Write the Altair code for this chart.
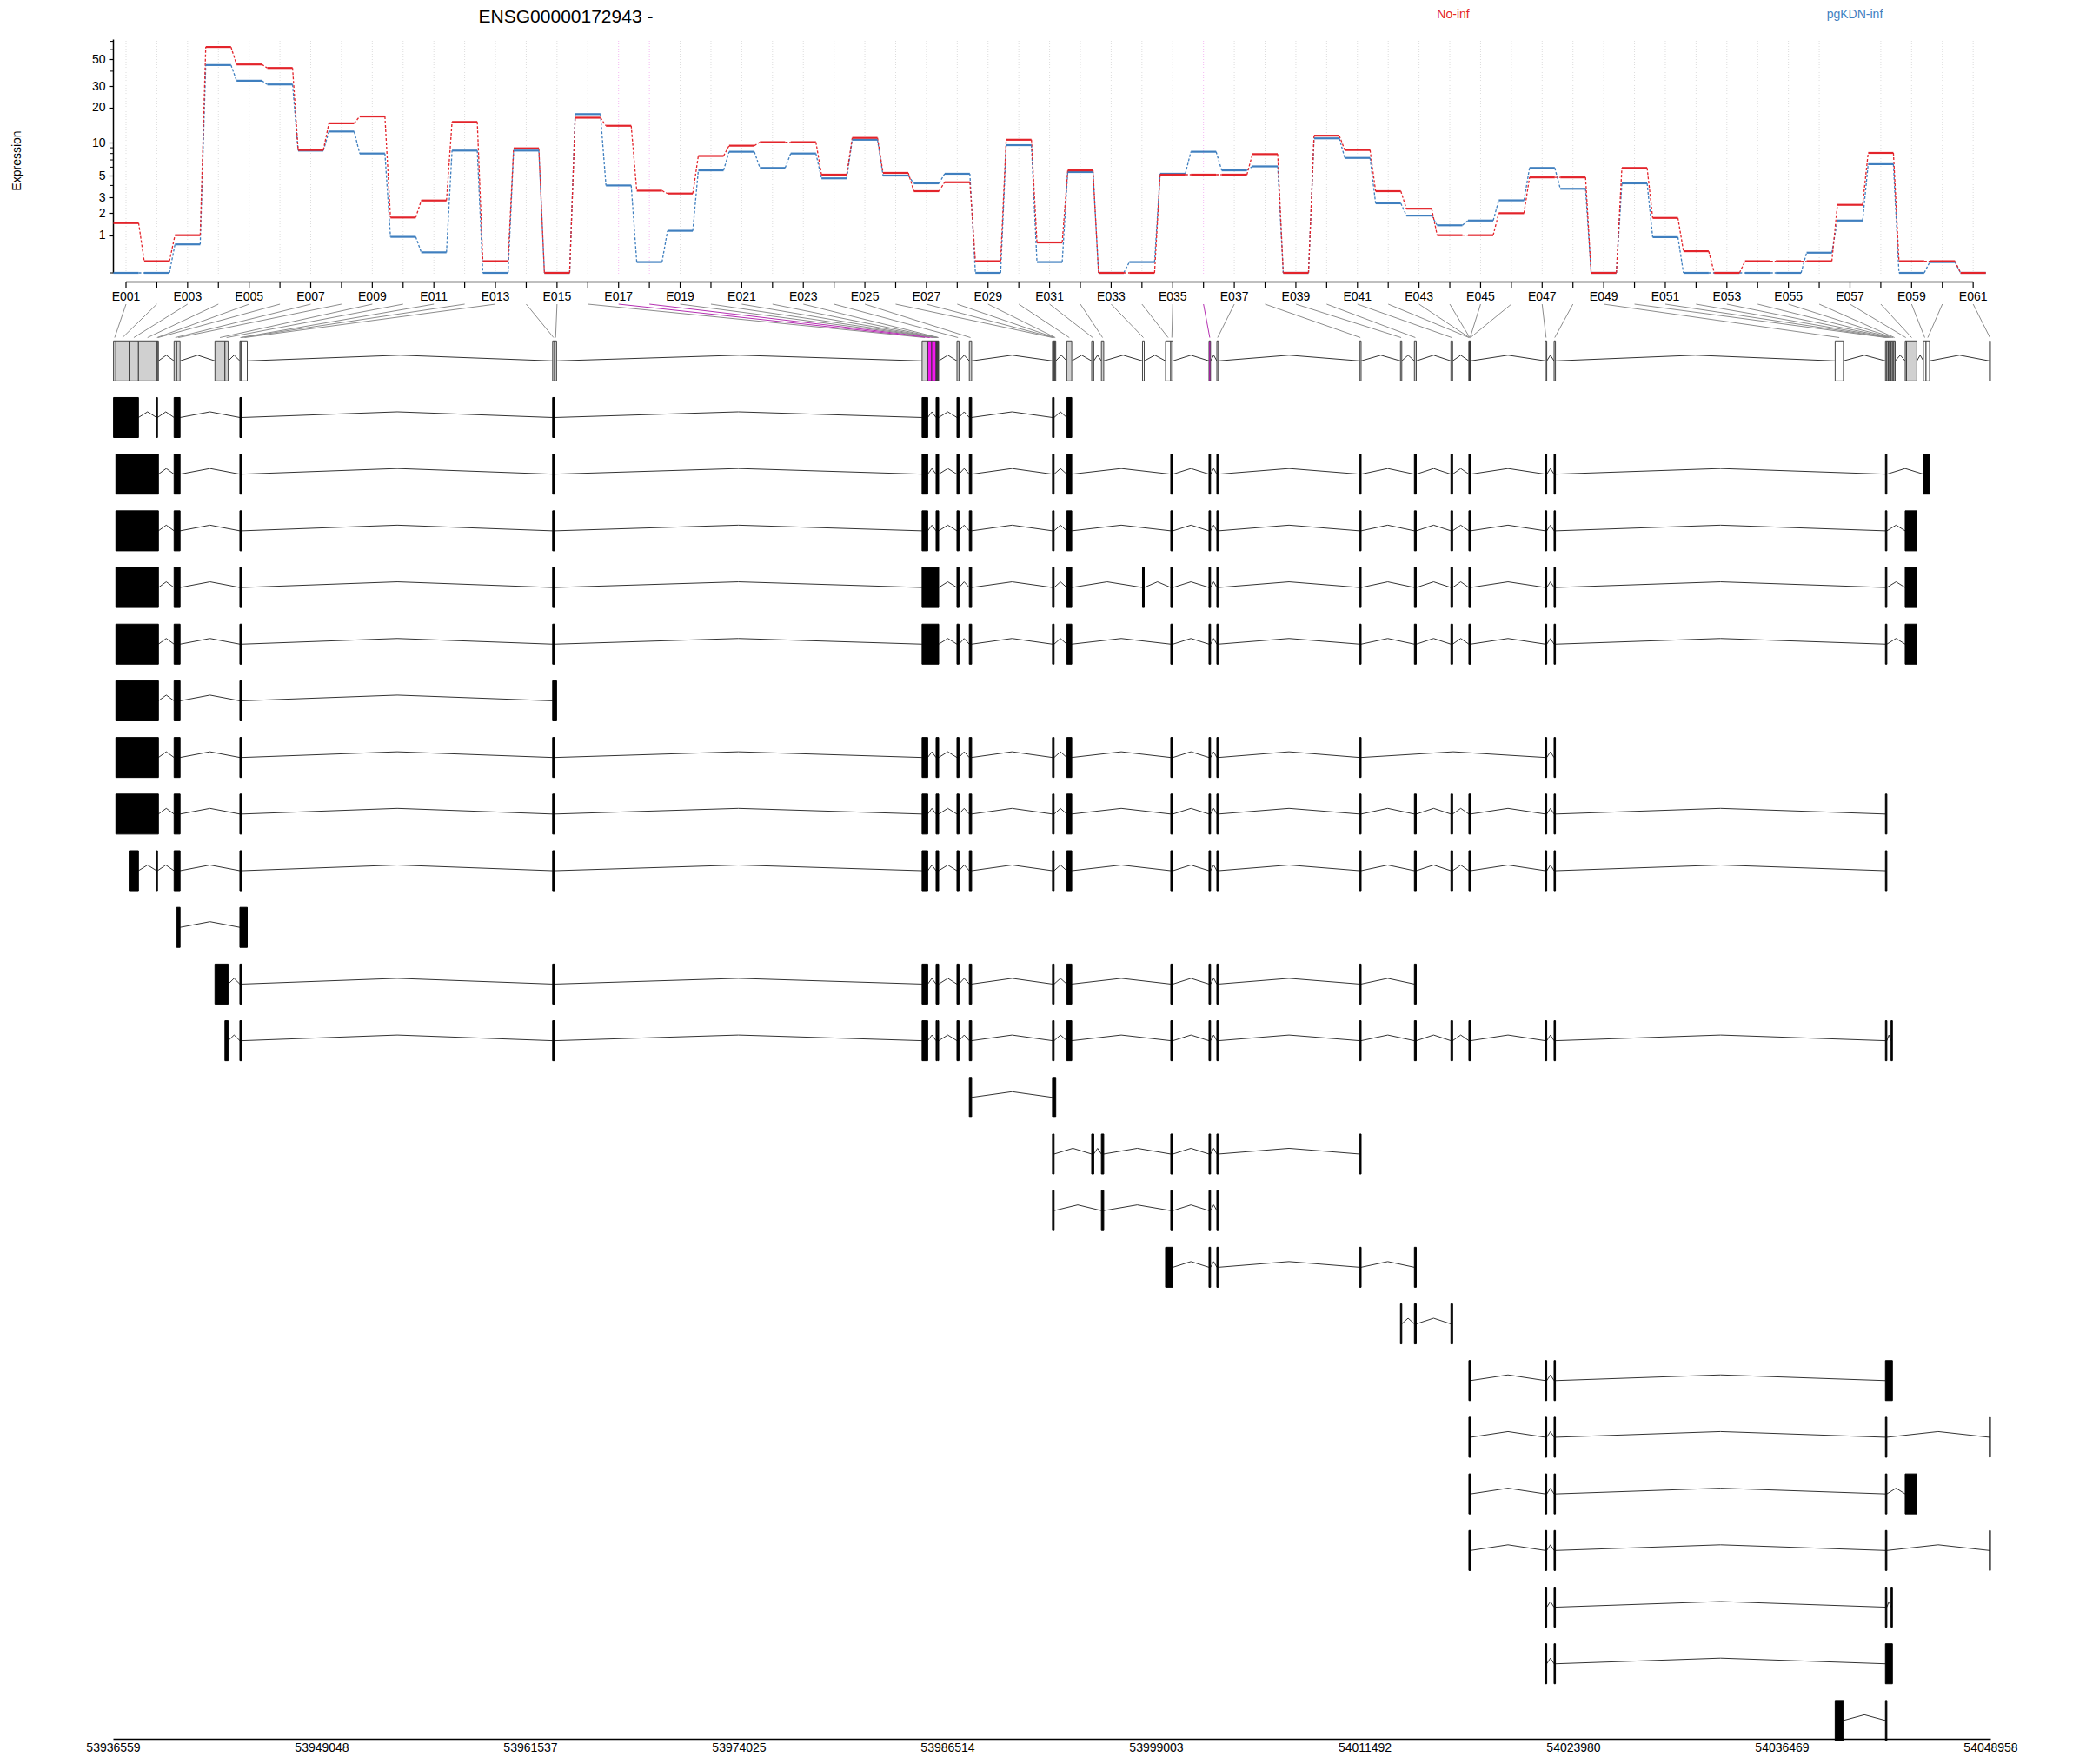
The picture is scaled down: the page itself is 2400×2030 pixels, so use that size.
import altair as alt
import pandas as pd

TITLE = "ENSG00000172943 -"
conditions = ["No-inf", "pgKDN-inf"]
cond_colors = ["#E3242B", "#3F7FBF"]
exon_labels = [f"E{i:03d}" for i in range(1, 62)]

expr_no_inf = [1.50, 0.24, 1.00, 63.0, 45.4, 42.5, 8.6, 14.7, 16.8, 1.77,
               2.79, 15.1, 0.24, 8.9, 0.0, 16.4, 14.0, 3.54, 3.31, 7.6,
               9.4, 10.1, 10.1, 5.1, 11.0, 5.3, 3.5, 4.3, 0.24, 10.6,
               0.75, 5.6, 0.0, 0.0, 5.1, 5.1, 5.1, 7.9, 0.0, 11.5,
               8.6, 3.5, 2.26, 1.0, 1.0, 2.0, 4.8, 4.8, 0.0, 5.9,
               1.75, 0.49, 0.0, 0.24, 0.24, 0.24, 2.5, 8.1, 0.24, 0.24, 0.0]
expr_pgkdn = [0.0, 0.0, 0.69, 44.9, 33.4, 31.1, 8.5, 12.5, 8.0, 0.94,
              0.46, 8.5, 0.0, 8.5, 0.0, 17.6, 4.0, 0.22, 1.17, 5.6,
              8.3, 5.9, 8.0, 4.7, 10.6, 5.0, 4.2, 5.2, 0.0, 9.5,
              0.22, 5.4, 0.0, 0.22, 5.2, 8.3, 5.6, 6.1, 0.0, 10.9,
              7.3, 2.6, 1.87, 1.40, 1.62, 2.8, 5.9, 3.7, 0.0, 4.2,
              0.93, 0.0, 0.0, 0.0, 0.0, 0.45, 1.62, 6.4, 0.0, 0.22, 0.0]

y_tick_values = [1, 2, 3, 5, 10, 20, 30, 50]
y_minor_ticks = [0, 4, 6, 7, 8, 9, 40, 60, 70]

bin_start = [53936590, 53936731, 53937527, 53938084, 53939171, 53939224, 53940217, 53940373,
             53942663, 53943261, 53944156, 53944219, 53944276, 53962879, 53962999, 53984999,
             53985337, 53985577, 53985837, 53985868, 53985899, 53985930, 53985962, 53987086,
             53987826, 53992806, 53992852, 53992904, 53992951, 53993663, 53995152, 53995735,
             53998196, 53999575, 53999887, 54002176, 54002645, 54011194, 54013640, 54014473,
             54016658, 54017735, 54017756, 54017777, 54017798, 54017819, 54022314, 54022835,
             54039663, 54042676, 54042759, 54042842, 54042925, 54043009, 54043092, 54043175,
             54043857, 54043935, 54044950, 54045106, 54048900]
bin_end = [53936731, 53937527, 53938084, 53939171, 53939224, 53939280, 53940373, 53940576,
           53943261, 53943459, 53944219, 53944276, 53944599, 53962999, 53963118, 53985337,
           53985577, 53985837, 53985868, 53985899, 53985930, 53985962, 53985993, 53987211,
           53987966, 53992852, 53992904, 53992951, 53993003, 53993960, 53995277, 53995875,
           53998300, 53999887, 54000017, 54002270, 54002739, 54011283, 54013718, 54014587,
           54016762, 54017756, 54017777, 54017798, 54017819, 54017839, 54022398, 54022918,
           54040157, 54042759, 54042842, 54042925, 54043009, 54043092, 54043175, 54043259,
           54043935, 54044554, 54045106, 54045314, 54048958]
sig_exons = [17, 18, 36]
low_exons = [13, 33, 34, 49, 59, 60]

transcripts = [
    [(1, 3), (5, 5), (7, 8), (11, 12), (14, 14), (16, 16), (19, 23), (24, 24), (25, 25), (26, 27), (30, 30)],
    [(2, 6), (7, 8), (11, 12), (14, 14), (16, 16), (19, 23), (24, 24), (25, 25), (26, 27), (30, 30), (35, 35), (36, 36), (37, 37), (38, 38), (40, 40), (41, 41), (42, 46), (47, 47), (48, 48), (50, 50), (59, 60)],
    [(2, 6), (7, 8), (11, 12), (14, 14), (16, 16), (19, 23), (24, 24), (25, 25), (26, 27), (30, 30), (35, 35), (36, 36), (37, 37), (38, 38), (40, 40), (41, 41), (42, 46), (47, 47), (48, 48), (50, 50), (57, 58)],
    [(2, 6), (7, 8), (11, 12), (14, 14), (16, 23), (24, 24), (25, 25), (26, 27), (30, 30), (33, 33), (35, 35), (36, 36), (37, 37), (38, 38), (40, 40), (41, 41), (42, 46), (47, 47), (48, 48), (50, 50), (57, 58)],
    [(2, 6), (7, 8), (11, 12), (14, 14), (16, 23), (24, 24), (25, 25), (26, 27), (30, 30), (35, 35), (36, 36), (37, 37), (38, 38), (40, 40), (41, 41), (42, 46), (47, 47), (48, 48), (50, 50), (57, 58)],
    [(2, 6), (7, 8), (11, 12), (14, 15)],
    [(2, 6), (7, 8), (11, 12), (14, 14), (16, 16), (19, 23), (24, 24), (25, 25), (26, 27), (30, 30), (35, 35), (36, 36), (37, 37), (38, 38), (47, 47), (48, 48)],
    [(2, 6), (7, 8), (11, 12), (14, 14), (16, 16), (19, 23), (24, 24), (25, 25), (26, 27), (30, 30), (35, 35), (36, 36), (37, 37), (38, 38), (40, 40), (41, 41), (42, 46), (47, 47), (48, 48), (50, 50)],
    [(3, 3), (5, 5), (7, 8), (11, 12), (14, 14), (16, 16), (19, 23), (24, 24), (25, 25), (26, 27), (30, 30), (35, 35), (36, 36), (37, 37), (38, 38), (40, 40), (41, 41), (42, 46), (47, 47), (48, 48), (50, 50)],
    [(8, 8), (11, 13)],
    [(9, 10), (11, 12), (14, 14), (16, 16), (19, 23), (24, 24), (25, 25), (26, 27), (30, 30), (35, 35), (36, 36), (37, 37), (38, 38), (40, 40)],
    [(10, 10), (11, 12), (14, 14), (16, 16), (19, 20), (22, 23), (24, 24), (25, 25), (26, 27), (30, 30), (35, 35), (36, 36), (37, 37), (38, 38), (40, 40), (41, 41), (42, 46), (47, 47), (48, 48), (50, 50), (54, 54)],
    [(25, 25), (26, 29)],
    [(26, 27), (31, 31), (32, 32), (35, 35), (36, 36), (37, 37), (38, 38)],
    [(26, 27), (32, 32), (35, 35), (36, 36), (37, 37)],
    [(34, 35), (36, 36), (37, 37), (38, 38), (40, 40)],
    [(39, 39), (40, 40), (41, 41)],
    [(42, 46), (47, 47), (48, 48), (50, 54)],
    [(42, 46), (47, 47), (48, 48), (50, 50), (61, 61)],
    [(42, 46), (47, 47), (48, 48), (50, 50), (57, 58)],
    [(42, 46), (47, 47), (48, 48), (50, 50), (61, 61)],
    [(47, 47), (48, 48), (50, 50), (54, 54)],
    [(47, 47), (48, 48), (50, 54)],
    [(49, 49), (50, 50)],
]

genomic_ticks = [53936559, 53949048, 53961537, 53974025, 53986514,
                 53999003, 54011492, 54023980, 54036469, 54048958]

FONT = "Liberation Sans"
IX0, IX1 = 0.5765, 61.56
G0, G1 = genomic_ticks[0], genomic_ticks[-1]
HALF = 0.353
PEAK = 0.1

x_idx = alt.Scale(domain=[IX0, IX1], nice=False, zero=False)
x_gen = alt.Scale(domain=[G0, G1], nice=False, zero=False)
y_exp = alt.Scale(type="symlog", constant=1, domain=[0, 73], range=[306, 37], nice=False)
y_row = alt.Scale(domain=[0, 24], range=[407.3, 1971.9], nice=False, zero=False)
cond_scale = alt.Scale(domain=conditions, range=cond_colors)

n = len(exon_labels)
idx = list(range(1, n + 1))

# expression segments
seg_rows, conn_rows = [], []
for cond, vals in [("pgKDN-inf", expr_pgkdn), ("No-inf", expr_no_inf)]:
    for i, v in zip(idx, vals):
        seg_rows.append({"i": i, "cond": cond, "v": v})
    for k in range(n - 1):
        conn_rows.append({"i": k + 1, "cond": cond, "v": vals[k], "v2": vals[k + 1]})
seg_df = pd.DataFrame(seg_rows)
conn_df = pd.DataFrame(conn_rows)

ex_df = pd.DataFrame({
    "i": idx,
    "label": exon_labels,
    "sig": ["sig" if i in sig_exons else "ns" for i in idx],
    "status": ["sig" if i in sig_exons else ("low" if i in low_exons else "tested") for i in idx],
    "s": bin_start,
    "e": bin_end,
    "row": 0,
})
ex_df["gl"] = G0 + (ex_df["i"] - IX0) / (IX1 - IX0) * (G1 - G0)
ex_df["gm"] = (ex_df["s"] + ex_df["e"]) / 2

# transcript exons
tx_rows = []
for r, tx in enumerate(transcripts, start=1):
    for a, b in tx:
        tx_rows.append({"row": r, "s": bin_start[a - 1], "e": bin_end[b - 1]})
tx_df = pd.DataFrame(tx_rows)

# introns (gene model + transcripts)
intr_rows = []
def add_introns(row, exons):
    for (s1, e1), (s2, e2) in zip(exons[:-1], exons[1:]):
        if s2 > e1:
            m = (e1 + s2) / 2
            intr_rows.append({"xa": e1, "xb": m, "ya": row, "yb": row - PEAK})
            intr_rows.append({"xa": m, "xb": s2, "ya": row - PEAK, "yb": row})
add_introns(0, list(zip(bin_start, bin_end)))
for r, tx in enumerate(transcripts, start=1):
    add_introns(r, [(bin_start[a - 1], bin_end[b - 1]) for a, b in tx])
intr_df = pd.DataFrame(intr_rows)

# ---------------- layers ----------------
grid = alt.Chart(ex_df).mark_rule(strokeDash=[1, 2], strokeWidth=1).encode(
    x=alt.X("i:Q", scale=x_idx, axis=None),
    y=alt.value(39), y2=alt.value(307),
    color=alt.Color("sig:N", scale=alt.Scale(domain=["ns", "sig"], range=["#DDDDDD", "#F5B8F3"]), legend=None),
)

conn = alt.Chart(conn_df).transform_calculate(
    xa="datum.i + 0.41", xb="datum.i + 0.59"
).mark_rule(strokeDash=[3, 2], strokeWidth=1.3).encode(
    x=alt.X("xa:Q", scale=x_idx, axis=None), x2="xb:Q",
    y=alt.Y("v:Q", scale=y_exp, axis=None), y2="v2:Q",
    color=alt.Color("cond:N", scale=cond_scale, legend=None),
)

seg = alt.Chart(seg_df).transform_calculate(
    xa="datum.i - 0.41", xb="datum.i + 0.41"
).mark_rule(strokeWidth=2.2).encode(
    x=alt.X("xa:Q", scale=x_idx, axis=None), x2="xb:Q",
    y=alt.Y("v:Q", scale=y_exp, axis=alt.Axis(
        values=y_tick_values, tickSize=5, tickColor="black", domainColor="black",
        domainWidth=1.5, tickWidth=1.2, labelFontSize=14, labelColor="black", labelPadding=4,
        labelFont=FONT, grid=False, title=None, labelFlush=False, labelOverlap=False)),
    color=alt.Color("cond:N", scale=cond_scale, legend=None),
)

minor = alt.Chart(pd.DataFrame({"v": y_minor_ticks})).mark_rule(color="black", strokeWidth=1).encode(
    y=alt.Y("v:Q", scale=y_exp, axis=None),
    x=alt.value(-3), x2=alt.value(0),
)

xaxis_line = alt.Chart(pd.DataFrame({"a": [1], "b": [n]})).mark_rule(color="black", strokeWidth=1.5).encode(
    x=alt.X("a:Q", scale=x_idx, axis=None), x2="b:Q", y=alt.value(316.5),
)
xaxis_ticks = alt.Chart(ex_df).mark_rule(color="black", strokeWidth=1.2).encode(
    x=alt.X("i:Q", scale=x_idx, axis=None), y=alt.value(316.5), y2=alt.value(323),
)
xaxis_labels = alt.Chart(ex_df).transform_filter("datum.i % 2 == 1").mark_text(
    fontSize=14, font=FONT, color="black", baseline="middle", align="center"
).encode(
    x=alt.X("i:Q", scale=x_idx, axis=None), y=alt.value(333.5), text="label:N",
)

links = alt.Chart(ex_df).mark_rule(strokeWidth=1).encode(
    x=alt.X("gl:Q", scale=x_gen, axis=None), x2="gm:Q",
    y=alt.value(342), y2=alt.value(380.5),
    color=alt.Color("sig:N", scale=alt.Scale(domain=["ns", "sig"], range=["#8C8C8C", "#B531B2"]), legend=None),
)

introns = alt.Chart(intr_df).mark_rule(color="#333333", strokeWidth=1).encode(
    x=alt.X("xa:Q", scale=x_gen, axis=None), x2="xb:Q",
    y=alt.Y("ya:Q", scale=y_row, axis=None), y2="yb:Q",
)

gene_model = alt.Chart(ex_df).transform_calculate(
    y0=f"datum.row - {HALF}", y1=f"datum.row + {HALF}"
).mark_rect(stroke="#333333", strokeWidth=0.9).encode(
    x=alt.X("s:Q", scale=x_gen, axis=None), x2="e:Q",
    y=alt.Y("y0:Q", scale=y_row, axis=None), y2="y1:Q",
    fill=alt.Fill("status:N", scale=alt.Scale(domain=["tested", "sig", "low"],
                                              range=["#D0D0D0", "#F219ED", "#FFFFFF"]), legend=None),
)

tx_rects = alt.Chart(tx_df).transform_calculate(
    y0=f"datum.row - {HALF}", y1=f"datum.row + {HALF}"
).mark_rect(fill="black", stroke="black", strokeWidth=1).encode(
    x=alt.X("s:Q", scale=x_gen, axis=alt.Axis(
        values=genomic_ticks, format="d", tickSize=0, labelFontSize=14, labelFont=FONT,
        labelColor="black", labelPadding=3, domainColor="black", domainWidth=1.5,
        grid=False, title=None, labelFlush=False, labelOverlap=False)),
    x2="e:Q",
    y=alt.Y("y0:Q", scale=y_row, axis=None), y2="y1:Q",
)

title = alt.Chart(pd.DataFrame({"t": [TITLE]})).mark_text(
    fontSize=21, font=FONT, color="black", align="center", baseline="middle"
).encode(x=alt.value(521), y=alt.value(12), text="t:N")

legend_df = pd.DataFrame({"cond": conditions, "px": [1542, 2004]})
legend = alt.Chart(legend_df).mark_text(
    fontSize=14, font=FONT, align="center", baseline="middle"
).encode(
    x=alt.X("px:Q", scale=alt.Scale(domain=[0, 2160], nice=False, zero=False), axis=None),
    y=alt.value(9), text="cond:N",
    color=alt.Color("cond:N", scale=cond_scale, legend=None),
)

ylab = alt.Chart(pd.DataFrame({"t": ["Expression"]})).mark_text(
    fontSize=14, font=FONT, color="black", angle=270, align="center", baseline="middle"
).encode(x=alt.value(-110), y=alt.value(177), text="t:N")

chart = alt.layer(
    grid, conn, seg, minor, xaxis_line, xaxis_ticks, xaxis_labels,
    links, introns, gene_model, tx_rects, title, legend, ylab,
).resolve_scale(
    x="independent", y="independent", color="independent", fill="independent"
).properties(
    width=2160, height=1993,
    padding={"left": 122, "top": 0, "right": 60, "bottom": 17},
    autosize=alt.AutoSizeParams(type="none"),
    background="white",
).configure_view(stroke=None)

chart.save("out.html", embed_options={"renderer": "svg", "actions": False})
